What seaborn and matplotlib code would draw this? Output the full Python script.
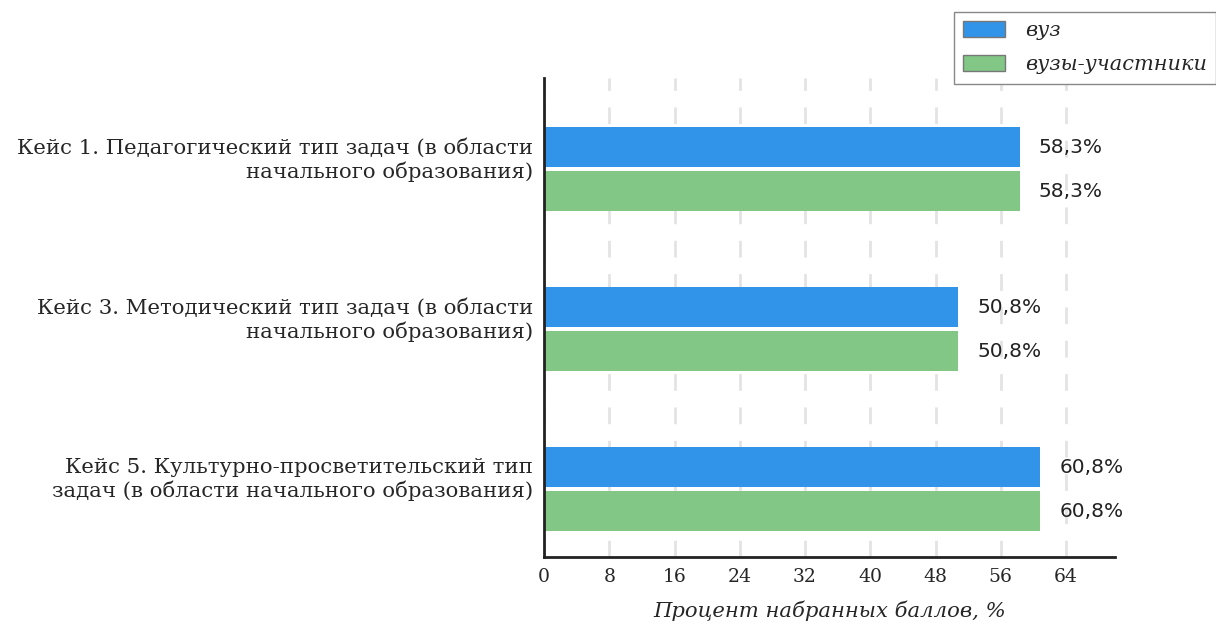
import pandas as pd
import matplotlib.pyplot as plt
import matplotlib.transforms as mtransforms
import seaborn as sns
from matplotlib.patches import Patch

# Data
categories = [
    "Кейс 1. Педагогический тип задач (в области\nначального образования)",
    "Кейс 3. Методический тип задач (в области\nначального образования)",
    "Кейс 5. Культурно-просветительский тип\nзадач (в области начального образования)",
]
series_names = ["вуз", "вузы-участники"]
vuz = [58.3, 50.8, 60.8]
vuzy_uchastniki = [58.3, 50.8, 60.8]
x_ticks = [0, 8, 16, 24, 32, 40, 48, 56, 64]

df = pd.DataFrame({
    "Кейс": categories * 2,
    "Серия": [series_names[0]] * 3 + [series_names[1]] * 3,
    "Процент": vuz + vuzy_uchastniki,
})

colors = {"вуз": "#3194e8", "вузы-участники": "#82c785"}

sns.set_style("white")
fig = plt.figure(figsize=(12.16, 6.24), dpi=100)
ax = fig.add_axes([0.4474, 0.107, 0.4695, 0.768])

sns.barplot(data=df, y="Кейс", x="Процент", hue="Серия", palette=colors,
            saturation=1, orient="h", width=0.55, gap=0.09, linewidth=0,
            ax=ax, legend=False)

for c in ax.containers:
    ax.bar_label(c, labels=[f"{v:.1f}%".replace(".", ",") for v in c.datavalues],
                 padding=14, fontsize=14.5, family="DejaVu Sans", color="#222222")

ax.set_xlim(0, 70)
ax.set_ylim(2.425, -0.57)
ax.set_xticks(x_ticks)
ax.set_xticklabels([str(t) for t in x_ticks], family="DejaVu Serif", fontsize=13.5)
ax.set_yticks(range(len(categories)))
ax.set_yticklabels(categories, family="DejaVu Serif", fontsize=15.3)
ax.tick_params(axis="both", length=0, pad=8)
ax.tick_params(axis="y", pad=8)

# category labels sit a little above the centre of their bar pair
shift = mtransforms.ScaledTranslation(0, 13 / 100, fig.dpi_scale_trans)
for lbl in ax.get_yticklabels():
    lbl.set_transform(lbl.get_transform() + shift)

ax.set_ylabel("")
ax.set_xlabel("Процент набранных баллов, %", family="DejaVu Serif",
              style="italic", fontsize=15.2, labelpad=10)

ax.xaxis.grid(True, linestyle=(0, (6, 6)), color="#e3e3e3", linewidth=2)
ax.set_axisbelow(True)
for s in ["top", "right"]:
    ax.spines[s].set_visible(False)
for s in ["left", "bottom"]:
    ax.spines[s].set_color("#222222")
    ax.spines[s].set_linewidth(2)

handles = [Patch(facecolor=colors[n], edgecolor="#777777", label=n) for n in series_names]
fig.legend(handles=handles, loc="upper right", bbox_to_anchor=(1.0, 0.981),
           fancybox=False, edgecolor="#888888", framealpha=1,
           prop={"family": "DejaVu Serif", "style": "italic", "size": 15},
           handlelength=2.0, handleheight=0.8, borderpad=0.45, labelspacing=0.7,
           handletextpad=0.95, borderaxespad=0)

fig.savefig("out.png", dpi=100)
